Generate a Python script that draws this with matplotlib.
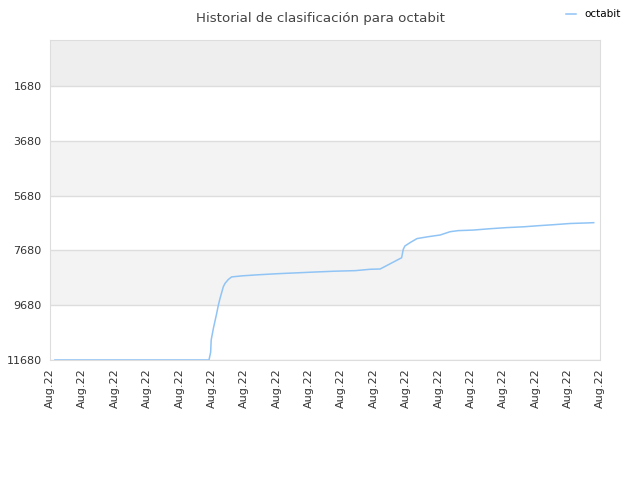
import matplotlib
matplotlib.use("Agg")
import matplotlib.pyplot as plt
import numpy as np

x_days = [0.91, 28.9, 29.2, 29.3, 29.7, 30.3, 30.6, 30.9, 31.5, 31.8, 32.4, 33.0, 34.9, 37.9,
          41.5, 44.9, 48.2, 51.8, 55.5, 58.2, 60.0, 63.9, 64.2, 64.5, 65.5, 66.7, 68.8, 70.9,
          72.7, 74.2, 76.9, 80.0, 83.0, 86.1, 88.8, 91.8, 94.5, 97.6, 98.8]
ranks = [11680, 11680, 11400, 10950, 10525, 9978, 9680, 9437, 9010, 8888, 8745, 8650, 8610, 8570,
         8530, 8500, 8470, 8440, 8420, 8370, 8360, 7950, 7640, 7520, 7390, 7250, 7180, 7120,
         7000, 6960, 6940, 6890, 6850, 6820, 6780, 6740, 6700, 6680, 6670]
y_ticks = [1680, 3680, 5680, 7680, 9680, 11680]
x_labels = ["Aug.22"] * 18
series_name = "octabit"

fig = plt.figure(figsize=(6.4, 4.8), dpi=100)
ax = fig.add_axes([0.078, 0.25, 0.86, 0.667])

ax.set_xlim(0, 100)
ax.set_ylim(11680, 0)

# bands
ax.axhspan(0, 1680, color="#eeeeee", zorder=0, lw=0)
ax.axhspan(3680, 5680, color="#f3f3f3", zorder=0, lw=0)
ax.axhspan(7680, 9680, color="#f3f3f3", zorder=0, lw=0)
for yt in y_ticks:
    ax.axhline(yt, color="#dddddd", lw=1, zorder=1)

ax.plot(x_days, ranks, color="#90c4f5", lw=1.1, label=series_name, zorder=3)

ax.set_yticks(y_ticks)
ax.set_yticklabels([str(v) for v in y_ticks], fontsize=8, color="#333333")
ax.set_xticks(np.linspace(0, 100, 18))
ax.set_xticklabels(x_labels, rotation=90, fontsize=8, color="#333333")
ax.tick_params(length=0, pad=6)

for s in ax.spines.values():
    s.set_color("#dddddd")

fig.text(0.5, 0.975, "Historial de clasificación para octabit", ha="center", va="top",
         fontsize=9.6, color="#444444")
fig.legend(loc="upper right", bbox_to_anchor=(0.985, 1.0), frameon=False, fontsize=7.5,
           handlelength=1.0, handletextpad=0.8)

fig.savefig("out.png")
